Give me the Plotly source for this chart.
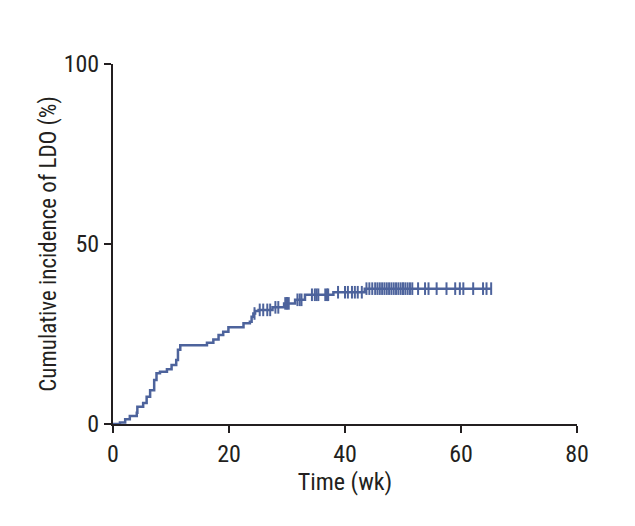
import numpy as np
import plotly.graph_objects as go

# Step curve: event times (weeks) and cumulative incidence (%)
event_times = [0, 1.2, 2.1, 2.9, 4.1, 4.2, 5.2, 5.8, 6.4, 7.1, 7.5, 8.1, 9.3, 10.1,
               10.9, 11.2, 11.6, 16.2, 17.3, 18.2, 19.0, 19.9, 22.5, 23.6, 23.9,
               24.2, 24.5, 25.1, 27.5, 29.5, 31.4, 33.1, 38.0, 43.4]
cum_incidence = [0, 0.4, 1.3, 2.2, 3.1, 4.8, 5.8, 7.6, 9.4, 12.2, 14.1, 14.5, 15.2,
                 16.4, 17.8, 20.6, 21.9, 22.6, 23.5, 24.7, 25.6, 26.9, 28.0, 28.4,
                 29.8, 30.7, 31.4, 31.7, 32.4, 33.5, 34.5, 35.9, 36.6, 37.6]

# Censoring times (weeks)
censor_times = [24.4, 25.3, 25.9, 26.6, 27.1, 28.0, 28.5, 29.7, 30.0, 30.3, 31.8,
                32.2, 32.5, 34.3, 34.8, 35.1, 35.4, 36.6, 36.9, 37.1, 38.8, 40.0,
                40.5, 41.2, 41.7, 42.2, 42.9, 43.7, 44.2, 44.7, 45.2, 45.6, 46.0,
                46.4, 46.8, 47.2, 47.6, 48.0, 48.4, 48.8, 49.2, 49.6, 50.0, 50.4,
                50.8, 51.2, 51.6, 52.6, 53.8, 54.4, 55.8, 57.5, 59.0, 59.8, 60.4,
                62.1, 63.8, 64.4, 65.2]

x_ticks = [0, 20, 40, 60, 80]
y_ticks = [0, 50, 100]

color = "#4d639c"
ink = "#231f20"
font_family = "Liberation Sans Narrow, Roboto Condensed, Arial Narrow, sans-serif"

et = np.array(event_times)
ci = np.array(cum_incidence)
ct = np.array(censor_times)
cy = ci[np.searchsorted(et, ct, side="right") - 1]

line_x = list(et) + [ct.max()]
line_y = list(ci) + [ci[-1]]

fig = go.Figure()
fig.add_trace(go.Scatter(x=line_x, y=line_y, mode="lines",
                         line=dict(color=color, width=2.5, shape="hv"),
                         hoverinfo="skip", showlegend=False))
fig.add_trace(go.Scatter(x=ct, y=cy, mode="markers",
                         marker=dict(symbol="line-ns", size=9,
                                     line=dict(color=color, width=2)),
                         showlegend=False))

axis_common = dict(showline=True, linecolor=ink, linewidth=2,
                   ticks="outside", ticklen=7, tickwidth=2, tickcolor=ink,
                   showgrid=False, zeroline=False,
                   tickfont=dict(family=font_family, size=24, color=ink))

fig.update_xaxes(range=[0, 80], tickvals=x_ticks,
                 title=dict(text="Time (wk)", standoff=4,
                            font=dict(family=font_family, size=24, color=ink)),
                 **axis_common)
fig.update_yaxes(range=[0, 100], tickvals=y_ticks,
                 title=dict(text="Cumulative incidence of LDO (%)", standoff=1,
                            font=dict(family=font_family, size=23, color=ink)),
                 **axis_common)

fig.update_layout(width=635, height=526,
                  margin=dict(l=105, r=66, t=56, b=110),
                  plot_bgcolor="white", paper_bgcolor="white")

fig.write_html("out.html")
